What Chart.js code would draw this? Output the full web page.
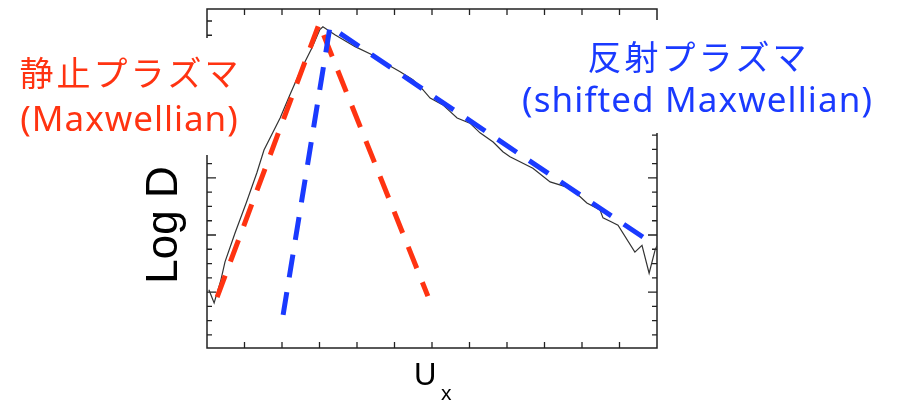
<!DOCTYPE html>
<html>
<head>
<meta charset="utf-8">
<script src="https://cdn.jsdelivr.net/npm/chart.js@4/dist/chart.umd.min.js"></script>
<style>
  html, body { margin: 0; padding: 0; background: #fff; }
  #wrap { width: 899px; height: 402px; }
</style>
</head>
<body>
<div id="wrap"><canvas id="ChartD" width="899" height="402"></canvas></div>
<script>
// measured distribution (log D vs Ux)
const uxMeas = [0.05, 0.19, 0.37, 0.48, 0.75, 1.05, 1.33, 1.52, 1.95, 2.2, 2.48, 2.8, 3.01, 3.09,
  3.41, 3.95, 4.4, 4.67, 5.15, 5.49, 5.75, 5.95, 6.29, 6.67, 7.01, 7.28, 7.63, 7.89, 8.08,
  8.69, 9.15, 9.6, 9.9, 10.13, 10.48, 10.56, 10.75, 10.96, 11.41, 11.6, 11.79, 11.95, 12.0];
const logDMeas = [0.04, -0.19, 0.21, 0.53, 1.04, 1.57, 2.09, 2.49, 3.05, 3.44, 3.86, 4.28, 4.6, 4.65,
  4.51, 4.3, 4.16, 4.04, 3.86, 3.72, 3.55, 3.4, 3.28, 3.05, 2.96, 2.79, 2.63, 2.46, 2.37,
  2.17, 1.93, 1.84, 1.7, 1.56, 1.44, 1.3, 1.24, 1.17, 0.7, 0.82, 0.33, 0.74, 0.81];

// 静止プラズマ (Maxwellian) fit
const restUx = [0.27, 2.99, 5.89];
const restLogD = [-0.09, 4.70, -0.07];

// 反射プラズマ (shifted Maxwellian) fit
const reflUx = [2.03, 3.28, 11.95];
const reflLogD = [-0.40, 4.65, 0.82];

// tick positions
const xTicks = [1, 2, 3, 4, 5, 6, 7, 8, 9, 10, 11];
const yTicks = [-0.75, -0.5, -0.25, 0, 0.25, 0.5, 0.75, 1, 1.25, 1.5, 1.75, 2, 2.25, 2.5, 2.75,
  3, 3.25, 3.5, 3.75, 4, 4.25, 4.5, 4.75];

const RED = '#ff3311';
const BLUE = '#1a3aff';

function toPoints(xs, ys) {
    return xs.map((x, i) => ({ x: x, y: ys[i] }));
}

function drawText(ctx, text, x, y, font, color, spacing, baseline) {
    ctx.save();
    ctx.font = font;
    ctx.fillStyle = color;
    ctx.letterSpacing = spacing + 'px';
    ctx.textAlign = 'center';
    ctx.textBaseline = baseline;
    ctx.fillText(text, x + spacing / 2, y);
    ctx.restore();
}

// frame with inward ticks on all four sides
const framePlugin = {
    id: 'frame',
    beforeDatasetsDraw(chart) {
        const ctx = chart.ctx;
        const a = chart.chartArea;
        const sx = chart.scales.x, sy = chart.scales.y;
        ctx.save();
        ctx.strokeStyle = '#222';
        ctx.lineWidth = 1.5;
        ctx.strokeRect(a.left, a.top, a.right - a.left, a.bottom - a.top);
        ctx.lineWidth = 1.3;
        ctx.beginPath();
        xTicks.forEach(v => {
            const px = sx.getPixelForValue(v);
            ctx.moveTo(px, a.bottom); ctx.lineTo(px, a.bottom - 6);
            ctx.moveTo(px, a.top); ctx.lineTo(px, a.top + 6);
        });
        yTicks.forEach(v => {
            const py = sy.getPixelForValue(v);
            const len = Number.isInteger(v) ? 9 : 5;
            ctx.moveTo(a.left, py); ctx.lineTo(a.left + len, py);
            ctx.moveTo(a.right, py); ctx.lineTo(a.right - len, py);
        });
        ctx.stroke();
        ctx.restore();
    },
    afterDraw(chart) {
        const ctx = chart.ctx;
        ctx.save();
        // label boxes sit over the frame
        ctx.fillStyle = '#fff';
        ctx.fillRect(0, 38, 255, 117);
        ctx.fillRect(505, 20, 394, 113);
        ctx.restore();

        drawText(ctx, '静止プラズマ', 129, 73, '34px "Noto Sans CJK JP"', RED, 3, 'middle');
        drawText(ctx, '(Maxwellian)', 129, 131, '35px "Noto Sans"', RED, 1, 'alphabetic');
        drawText(ctx, '反射プラズマ', 697, 57, '34px "Noto Sans CJK JP"', BLUE, 3, 'middle');
        drawText(ctx, '(shifted Maxwellian)', 697, 112, '35px "Noto Sans"', BLUE, 1.1, 'alphabetic');

        // axis titles
        ctx.save();
        ctx.fillStyle = '#000';
        ctx.translate(177, 225);
        ctx.rotate(-Math.PI / 2);
        ctx.font = '44px "Liberation Sans"';
        ctx.textAlign = 'center';
        ctx.textBaseline = 'alphabetic';
        ctx.fillText('Log D', 0, 0);
        ctx.restore();

        ctx.save();
        ctx.fillStyle = '#000';
        ctx.font = '31px "Liberation Sans"';
        ctx.textBaseline = 'alphabetic';
        ctx.fillText('U', 414, 385);
        ctx.font = '21px "Liberation Sans"';
        ctx.fillText('x', 441, 400);
        ctx.restore();
    }
};

const chartD = new Chart(document.getElementById('ChartD'), {
    type: 'line',
    data: {
        datasets: [{
            label: '反射プラズマ',
            data: toPoints(reflUx, reflLogD),
            borderColor: BLUE,
            borderWidth: 5,
            borderDash: [23, 15],
            pointRadius: 0,
            clip: false
        }, {
            label: '静止プラズマ',
            data: toPoints(restUx, restLogD),
            borderColor: RED,
            borderWidth: 5,
            borderDash: [23, 15],
            pointRadius: 0,
            clip: false
        }, {
            label: 'D',
            data: toPoints(uxMeas, logDMeas),
            borderColor: '#333',
            borderWidth: 1.2,
            pointRadius: 0
        }]
    },
    options: {
        responsive: false,
        animation: false,
        layout: { padding: { left: 207, top: 9, right: 242, bottom: 54 } },
        plugins: { legend: { display: false }, tooltip: { enabled: false } },
        scales: {
            x: { type: 'linear', min: 0, max: 12, display: false },
            y: { type: 'linear', min: -0.98, max: 4.96, display: false }
        }
    },
    plugins: [framePlugin]
});
</script>
</body>
</html>
